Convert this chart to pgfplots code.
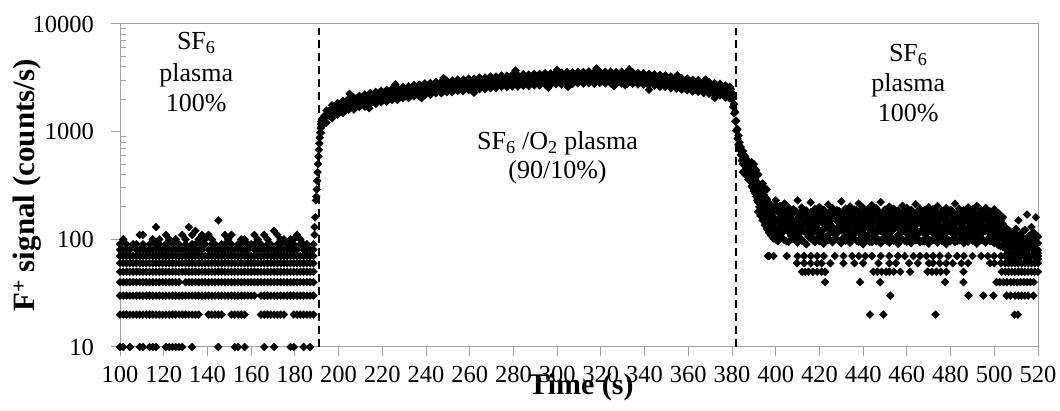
\documentclass[border=0pt]{standalone}
\usepackage{fontspec}
\setmainfont{Liberation Serif}
\usepackage{pgfplots}
\usepackage{pgfplotstable}
\pgfplotsset{compat=1.18}
\definecolor{axgray}{RGB}{160,160,160}
\pgfplotsset{pt/.style={only marks, mark=square*, mark size=2.75pt,
  mark options={rotate=45, fill=black, draw=black, line width=0.4pt, solid}, black,
  filter discard warning=false, unbounded coords=discard}}

% baseline SF6 plasma (quantised counts)
\pgfplotstableread{
x a b c d e f g h i j
100   10  20  30 40 50 60 70 80 90  nan
101.5 10  20  30 40 50 60 70 80 nan 100
103   nan 20  30 40 50 60 70 80 90  nan
104.5 10  20  30 40 50 60 70 80 nan nan
106   nan 20  30 40 50 60 70 nan 90 nan
107.5 nan 20  30 40 50 60 70 80 90  nan
109   10  20  30 40 50 60 70 80 nan 110
110.5 10  20  30 40 50 60 70 80 90  110
112   nan 20  30 40 50 60 70 80 nan nan
113.5 10  20  30 40 50 60 70 80 90  nan
115   10  20  30 40 50 60 70 80 nan 100
116.5 10  20  30 40 50 60 70 80 90  130
118   nan 20  30 40 50 60 70 80 90  100
119.5 nan 20  30 40 50 60 70 80 nan nan
121   10  20  30 40 50 60 70 80 90  110
122.5 10  20  30 40 50 60 70 80 nan 100
124   10  20  30 40 50 60 70 80 90  nan
125.5 10  20  30 40 50 60 70 80 nan 100
127   10  20  30 40 50 60 70 80 90  nan
128.5 10  20  30 nan 50 60 70 80 nan 110
130   nan 20  30 40 50 60 70 80 90  100
131.5 nan 20  30 40 50 60 70 80 nan 130
133   10  20  30 40 50 60 70 80 90  110
134.5 nan 20  30 40 50 60 70 80 90  120
136   nan 20  30 40 50 60 70 80 nan 100
137.5 nan nan 30 40 50 60 70 80 90  110
139   nan nan 30 40 50 60 70 nan 90 100
140.5 nan 20  30 40 50 60 70 80 nan 110
142   nan 20  30 40 50 60 70 80 90  100
143.5 nan 20  30 40 50 60 70 80 90  nan
145   10  20  30 40 50 60 70 80 nan 150
146.5 nan 20  30 40 50 60 70 80 90  nan
148   nan nan 30 40 50 60 70 80 90  110
149.5 nan nan 30 40 50 60 70 80 nan 100
151   nan 20  30 40 50 60 70 80 90  110
152.5 10  20  30 40 50 60 70 80 nan nan
154   10  20  30 40 50 60 70 80 90  nan
155.5 nan 20  30 40 50 60 70 80 90  100
157   10  20  30 40 50 60 70 80 nan 100
158.5 nan nan 30 40 50 60 70 80 90  nan
160   nan nan 30 40 50 60 70 nan 90 nan
161.5 nan nan 30 40 50 60 70 80 90  110
163   nan nan nan 40 50 60 70 80 nan 100
164.5 nan 20  30 40 50 60 70 80 90  nan
166   10  20  30 40 50 60 70 80 nan 110
167.5 nan 20  30 40 50 60 70 80 90  100
169   nan 20  30 40 50 60 70 80 90  nan
170.5 10  20  30 40 50 60 70 80 nan 120
172   nan 20  30 40 50 60 70 80 90  110
173.5 nan 20  30 40 50 60 70 80 90  100
175   nan 20  30 40 50 60 70 80 nan 100
176.5 nan nan 30 40 50 60 70 80 90  nan
178   10  nan 30 40 50 60 70 80 90  100
179.5 10  20  30 40 50 60 70 80 90  100
181   nan 20  30 40 50 60 70 80 nan 110
182.5 nan 20  30 40 50 60 70 nan 90 100
184   10  20  30 40 50 60 70 80 90  nan
185.5 nan 20  30 40 50 60 70 80 90  nan
187   10  20  30 40 50 60 70 80 nan nan
188.5 nan 20  30 40 50 60 70 80 90  nan
}\base

% rise after O2 addition
\pgfplotstableread{
x y
189.0 110
189.0 130
189.3 160
189.6 230
189.8 250
190.0 290
190.2 350
190.4 420
190.6 500
190.8 590
191.0 680
191.2 780
191.4 880
191.6 980
191.8 1080
192.0 1180
192.3 1250
192.6 1320
193.0 1200
193.5 1400
}\rise

% SF6/O2 plateau
\pgfplotstableread{
x lo mid hi
192 980 1100 1240
194.5 1210 1390 1570
197 1330 1540 1760
199.5 1440 1620 1840
202 1490 1720 1930
204.5 1590 1770 2020
207 1600 1850 2080
209.5 1690 1890 2150
212 1710 1970 2210
214.5 1800 2010 2290
217 1810 2080 2340
219.5 1880 2110 2400
222 1890 2180 2440
224.5 1970 2200 2510
227 1970 2270 2540
229.5 2040 2290 2610
232 2050 2360 2640
234.5 2120 2380 2710
237 2120 2440 2730
239.5 2190 2460 2810
242 2200 2530 2830
244.5 2270 2550 2900
247 2270 2600 2910
249.5 2330 2620 2990
252 2330 2670 2990
254.5 2390 2680 3050
257 2380 2720 3050
259.5 2430 2730 3110
262 2430 2780 3110
264.5 2480 2790 3180
267 2480 2840 3180
269.5 2530 2850 3250
272 2540 2910 3250
274.5 2600 2920 3320
277 2590 2960 3320
279.5 2630 2960 3370
282 2620 3000 3360
284.5 2670 3000 3420
287 2650 3030 3400
289.5 2690 3030 3450
292 2690 3070 3440
294.5 2730 3070 3500
297 2720 3110 3480
299.5 2760 3110 3550
302 2750 3150 3530
304.5 2790 3140 3580
307 2770 3170 3560
309.5 2810 3160 3600
312 2790 3190 3580
314.5 2820 3180 3620
317 2790 3200 3590
319.5 2830 3180 3620
322 2800 3200 3600
324.5 2810 3180 3620
327 2790 3190 3580
329.5 2800 3160 3600
332 2770 3170 3560
334.5 2780 3140 3570
337 2740 3130 3510
339.5 2730 3080 3500
342 2680 3070 3450
344.5 2670 3010 3420
347 2610 2990 3360
349.5 2600 2930 3330
352 2530 2900 3260
354.5 2510 2830 3220
357 2450 2800 3140
359.5 2420 2730 3110
362 2360 2700 3030
364.5 2340 2640 3000
367 2280 2610 2930
369.5 2250 2540 2890
372 2190 2510 2820
374.5 2170 2440 2780
377 2080 2390 2680
379 2030 2290 2610
}\plateau

% SF6/O2 plateau, samples between the above
\pgfplotstableread{
x p q
193.25 1180 1330
195.75 1400 1560
198.25 1500 1720
200.75 1580 1790
203.25 1640 1880
205.75 1720 1930
208.25 1770 2000
210.75 1830 2060
213.25 1870 2120
215.75 1940 2170
218.25 1970 2230
220.75 2030 2270
223.25 2060 2330
225.75 2120 2370
228.25 2150 2420
230.75 2210 2450
233.25 2230 2510
235.75 2290 2540
238.25 2310 2600
240.75 2370 2630
243.25 2400 2690
245.75 2450 2720
248.25 2470 2770
250.75 2520 2800
253.25 2530 2840
255.75 2580 2860
258.25 2580 2900
260.75 2630 2920
263.25 2640 2960
265.75 2690 2980
268.25 2690 3020
270.75 2740 3050
273.25 2760 3090
275.75 2810 3120
278.25 2800 3150
280.75 2850 3160
283.25 2840 3190
285.75 2890 3210
288.25 2870 3230
290.75 2910 3240
293.25 2900 3270
295.75 2950 3280
298.25 2940 3310
300.75 2990 3320
303.25 2970 3350
305.75 3010 3360
308.25 2990 3370
310.75 3030 3380
313.25 3000 3390
315.75 3050 3400
318.25 3010 3400
320.75 3050 3410
323.25 3020 3400
325.75 3040 3410
328.25 3000 3390
330.75 3020 3380
333.25 2980 3370
335.75 2990 3340
338.25 2940 3320
340.75 2930 3290
343.25 2880 3250
345.75 2860 3210
348.25 2800 3160
350.75 2790 3130
353.25 2720 3060
355.75 2700 3030
358.25 2630 2960
360.75 2600 2930
363.25 2540 2860
365.75 2510 2830
368.25 2450 2770
370.75 2420 2730
373.25 2360 2670
375.75 2330 2630
378.25 2220 2520
}\plateaub

% scattered plateau samples
\pgfplotstableread{
x y
205 2250
214 1650
226 2750
238 2050
248 3150
262 2300
281 3700
296 2550
300 3750
305 2600
318 3850
326 2650
331 2700
333 3800
342 2450
355 3350
368 3050
372 2050
}\plateauc

% decay after O2 switched off
\pgfplotstableread{
x y
379.5 2200
379.5 2480
380 2000
380 2300
380.5 1700
380.5 2050
381 1480
381 1800
381.5 1250
381.5 1520
382 1020
382 1260
382.5 860
382.5 1060
383 760
383 920
383.5 680
383.5 800
384 610
384 720
384.5 650
384.5 540
385 560
385 660
385 500
385 420
385.5 520
385.5 600
386 500
386 590
386 440
386 400
386.5 470
386.5 560
387 450
387 530
387 390
387.5 420
387.5 500
387.5 360
388 400
388 480
388 350
388.5 380
388.5 450
389 370
389 430
389 310
389 520
389.5 350
389.5 410
389.5 300
390 330
390 390
390 280
390 460
390 500
390.5 310
390.5 370
390.5 270
391 300
391 350
391 250
391 440
391.5 285
391.5 340
391.5 230
392 270
392 320
392 220
392 180
392 400
392.5 260
392.5 300
392.5 200
393 250
393 290
393 200
393 165
393.5 240
393.5 280
393.5 180
394 230
394 270
394 190
394 150
394 330
394.5 220
394.5 260
394.5 160
395 215
395 250
395 170
395 135
395 300
395.5 200
395.5 240
395.5 145
396 195
396 235
396 160
396 125
396 290
396.5 190
396.5 220
396.5 135
397 180
397 215
397 150
397 115
397 70
397.5 175
397.5 205
397.5 120
398 170
398 205
398 140
398 108
398.5 165
398.5 195
398.5 112
399 160
399 200
399 132
399 102
399.5 155
399.5 185
399.5 105
400 150
400 190
400 125
400 100
400 230
400.5 150
400.5 200
400.5 110
401 145
401 180
401 118
401 96
}\decay

% SF6 plasma again: dense cloud
\pgfplotstableread{
x a b c d e f
402 112 134 158 182 205 190
404 98 121 146 170 215 132
406 95 117 140 164 196 178
408 101 124 132 175 190 150
410 93 112 138 158 230 125
412 97 120 150 172 198 184
414 90 115 136 162 185 148
416 102 108 143 178 220 130
418 94 119 131 155 192 176
420 96 114 145 168 200 122
422 91 123 137 160 188 172
424 99 110 141 173 210 152
426 94 118 129 157 195 180
428 100 113 148 166 186 127
430 92 121 134 176 225 160
432 97 109 142 159 193 176
434 93 117 131 170 202 146
436 101 112 146 163 188 126
438 95 120 138 156 215 180
440 90 115 144 171 197 131
442 98 108 133 162 190 150
444 94 122 140 167 208 178
446 96 114 129 158 194 124
448 92 119 147 174 222 158
450 99 111 136 161 189 176
452 93 116 142 169 201 129
454 97 124 132 155 192 174
456 91 110 139 173 186 150
458 100 118 145 164 205 128
460 95 113 130 157 196 178
462 92 121 141 170 188 152
464 98 109 135 162 212 122
466 94 117 143 166 193 180
468 96 112 128 159 187 144
470 91 120 146 172 199 128
472 99 114 137 160 190 176
474 93 108 140 168 204 152
476 97 119 131 156 185 126
478 90 115 144 165 195 180
480 96 122 134 171 188 148
482 94 110 139 158 214 128
484 98 117 142 163 192 176
486 92 113 130 170 186 150
488 95 120 145 161 198 126
490 97 108 136 167 190 178
492 91 116 133 155 205 146
494 99 112 141 164 187 124
496 93 119 129 158 196 176
498 96 114 138 152 182 120
500 92 107 127 150 190 165
502 88 103 122 145 175 132
504 85 99 116 138 160 125
505 70 82 96 110 130 90
507 66 78 91 105 120 98
509 72 85 99 115 nan 62
511 68 80 93 108 150 88
513 74 87 101 118 nan 95
515 65 79 90 104 170 72
517 70 83 97 112 130 92
519 67 76 89 103 160 83
}\cloud

% dense cloud, samples between the above
\pgfplotstableread{
x p q r s t
403 103 127 150 190 116
405 96 124 152 181 165
407 108 129 156 178 140
409 99 121 149 184 112
411 104 128 153 176 166
413 95 118 147 180 136
415 106 131 155 174 118
417 98 122 150 183 168
419 103 126 146 177 138
421 97 119 153 185 110
423 105 128 149 172 164
425 99 124 151 181 138
427 102 117 154 176 112
429 96 127 148 184 168
431 104 122 152 173 137
433 98 129 155 180 112
435 106 120 147 175 162
437 97 125 150 186 138
439 103 118 153 171 110
441 100 128 149 179 166
443 95 123 156 182 139
445 105 119 151 174 113
447 99 127 146 181 164
449 102 121 154 177 136
451 96 126 150 183 112
453 104 118 148 172 166
455 98 129 155 180 140
457 103 122 151 176 114
459 97 125 147 185 162
461 105 120 153 174 136
463 99 127 150 179 111
465 102 118 146 183 165
467 96 124 155 171 138
469 104 129 149 180 114
471 98 121 152 177 162
473 103 126 148 184 136
475 97 119 154 173 112
477 105 128 150 181 164
479 99 122 147 176 139
481 101 125 153 182 113
483 96 118 149 172 160
485 104 127 155 179 138
487 98 123 150 175 111
489 102 119 146 183 163
491 97 126 152 174 137
493 105 121 148 180 112
495 99 128 154 177 165
497 101 120 147 171 136
499 96 124 143 168 114
501 94 112 135 160 128
503 86 104 124 150 112
506 74 88 100 118 80
508 70 84 97 112 92
510 75 90 103 125 64
512 69 82 95 110 88
514 73 88 100 122 78
516 68 81 94 108 98
518 72 86 99 116 82
520 66 79 92 106 74
}\cloudb

% SF6 plasma again: low quantised counts
\pgfplotstableread{
x y
396.5 70
399 70
405 70
410 70
413 70
416 70
419 70
422 70
427 70
431 70
435 70
438 70
441 70
444 70
448 70
452 70
456 70
459 70
463 70
466 70
469 70
472 70
475 70
479 70
483 70
486 70
490 70
494 70
497 70
500 70
503 70
506 70
508 70
510 70
512 70
514 70
516 70
518 70
520 70
409.7 60
413 60
416 60
419 60
421 60
425 60
431 60
436 60
440 60
447 60
452 60
455 60
461 60
465 60
470 60
472 60
475 60
478 60
481 60
485 60
488 60
498 60
500 60
503 60
505 60
506.5 60
508 60
509.5 60
511 60
512.5 60
514 60
515.5 60
517 60
518.5 60
520 60
412 50
413.5 50
415 50
417 50
419 50
421 50
422.6 50
444.7 50
446.5 50
448.5 50
450.5 50
452 50
454 50
457 50
461.5 50
469.5 50
471.5 50
473.5 50
475.5 50
478 50
485.9 50
503.4 50
505 50
506.5 50
508 50
509.5 50
511 50
512.5 50
514 50
515.5 50
517 50
518.5 50
520 50
422.6 40
438.6 40
447.8 40
477.5 40
485.9 40
501 40
502.5 40
504.2 40
505.7 40
507.5 40
509 40
510.5 40
512 40
513.5 40
515 40
516.5 40
518 40
452.4 30
488.2 30
495 30
499.6 30
505.7 30
507.5 30
509.5 30
511 30
512.5 30
514 30
515.5 30
517.9 30
443.1 20
449.2 20
473.1 20
509.3 20
510.8 20
}\low

\begin{document}
\begin{tikzpicture}
\begin{axis}[
  scale only axis, width=918pt, height=323pt,
  xmin=100, xmax=520, ymin=10, ymax=10000, ymode=log,
  xtick={100,120,...,520},
  ytick={10,100,1000,10000},
  yticklabels={10,100,1000,10000},
  minor ytick={20,30,...,90,200,300,...,900,2000,3000,...,9000},
  axis line style={axgray, line width=1pt},
  every tick/.style={axgray, line width=1pt},
  tick align=outside,
  major tick length=9pt, minor tick length=6pt,
  minor y tick style={xshift=6pt},
  xtick pos=bottom, ytick pos=left,
  clip=false,
  /pgf/number format/assume math mode=true,
  ticklabel style={font=\fontsize{24.5}{24.5}\selectfont, text=black, inner sep=0pt},
  xticklabel style={anchor=north, yshift=-10pt},
  yticklabel style={anchor=east, xshift=-17pt},
]
\pgfplotsinvokeforeach{a,b,c,d,e,f,g,h,i,j}{\addplot[pt] table[x=x,y=#1]{\base};}
\addplot[pt] table[x=x,y=y]{\rise};
\pgfplotsinvokeforeach{lo,mid,hi}{\addplot[pt] table[x=x,y=#1]{\plateau};}
\pgfplotsinvokeforeach{p,q}{\addplot[pt] table[x=x,y=#1]{\plateaub};}
\addplot[pt] table[x=x,y=y]{\plateauc};
\addplot[pt] table[x=x,y=y]{\decay};
\pgfplotsinvokeforeach{a,b,c,d,e,f}{\addplot[pt] table[x=x,y=#1]{\cloud};}
\pgfplotsinvokeforeach{p,q,r,s,t}{\addplot[pt] table[x=x,y=#1]{\cloudb};}
\addplot[pt] table[x=x,y=y]{\low};

\addplot[black, line width=1.6pt, dash pattern=on 8pt off 5pt] coordinates {(191.1,10)(191.1,9200)};
\addplot[black, line width=1.6pt, dash pattern=on 8pt off 5pt] coordinates {(381.8,10)(381.8,9200)};

\begin{scope}[every node/.style={anchor=base, font=\fontsize{26}{30}\selectfont, inner sep=0pt}]
\node at (rel axis cs:0.0831,0.9195) {SF\textsubscript{6}};
\node at (rel axis cs:0.0831,0.8214) {plasma};
\node at (rel axis cs:0.0831,0.7285) {100\%};
\node at (rel axis cs:0.4766,0.612) {SF\textsubscript{6} /O\textsubscript{2} plasma};
\node at (rel axis cs:0.4766,0.522) {(90/10\%)};
\node at (rel axis cs:0.8587,0.8833) {SF\textsubscript{6}};
\node at (rel axis cs:0.8587,0.7904) {plasma};
\node at (rel axis cs:0.8587,0.6975) {100\%};
\end{scope}

\coordinate (sw) at (rel axis cs:0,0);
\coordinate (ne) at (rel axis cs:1,1);
\coordinate (lm) at (rel axis cs:0,0.5);
\coordinate (bm) at (rel axis cs:0.5,0);
\end{axis}
\node[rotate=90, anchor=base, inner sep=0pt, font=\bfseries\fontsize{31}{31}\selectfont] at ([xshift=-85pt]lm) {F\textsuperscript{+} signal (counts/s)};
\node[anchor=base, inner sep=0pt, font=\bfseries\fontsize{30}{30}\selectfont] at ([xshift=2pt,yshift=-48pt]bm) {Time (s)};
\pgfresetboundingbox
\path[use as bounding box] ([xshift=-120pt,yshift=-64pt]sw) rectangle ([xshift=22pt,yshift=24pt]ne);
\end{tikzpicture}
\end{document}
